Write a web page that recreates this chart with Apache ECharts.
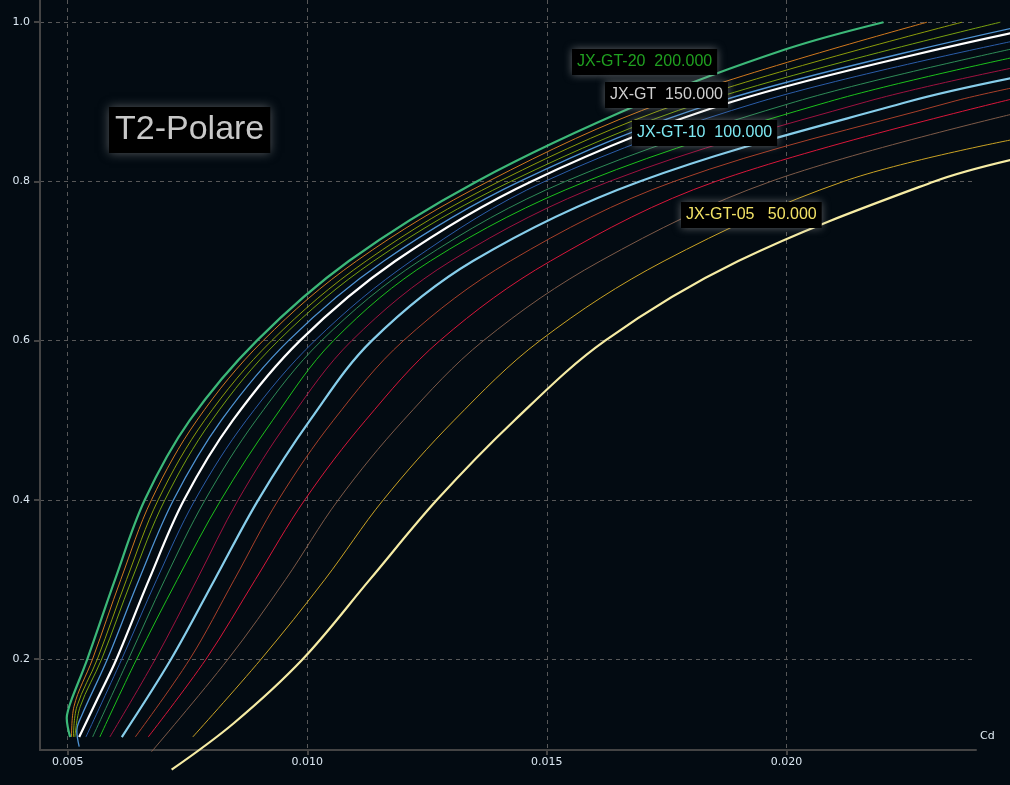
<!DOCTYPE html>
<html>
<head>
<meta charset="utf-8">
<title>T2-Polare</title>
<script src="https://cdn.jsdelivr.net/npm/echarts@6/dist/echarts.min.js"></script>
<style>
  html, body { margin: 0; padding: 0; background: #030b12; }
  #main { width: 1010px; height: 785px; }
</style>
</head>
<body>
<div id="main"></div>
<script>
// polar curves as [Cd, Cl] pairs
var gt20 = [[0.00505,0.102],[0.00500,0.115],[0.00498,0.126],[0.00501,0.136],[0.00508,0.149],[0.00541,0.2],[0.00599,0.3],[0.00661,0.4],[0.00755,0.5],[0.00895,0.6],[0.01087,0.7],[0.01354,0.8],[0.01705,0.9],[0.01999,0.966],[0.02203,1.0]];
var c190 = [[0.00508,0.102],[0.00513,0.14],[0.00552,0.2],[0.00611,0.3],[0.00675,0.4],[0.00770,0.5],[0.00908,0.6],[0.01103,0.7],[0.01378,0.8],[0.01747,0.9],[0.02294,1.0]];
var c180 = [[0.00512,0.102],[0.00519,0.14],[0.00562,0.2],[0.00623,0.3],[0.00689,0.4],[0.00786,0.5],[0.00926,0.6],[0.01123,0.7],[0.01401,0.8],[0.01787,0.9],[0.02367,1.0]];
var c170 = [[0.00515,0.102],[0.00526,0.14],[0.00571,0.2],[0.00634,0.3],[0.00703,0.4],[0.00801,0.5],[0.00940,0.6],[0.01139,0.7],[0.01425,0.8],[0.01828,0.9],[0.02447,1.0]];
var c160 = [[0.00524,0.09],[0.00519,0.11],[0.00530,0.13],[0.00583,0.2],[0.00649,0.3],[0.00721,0.4],[0.00821,0.5],[0.00961,0.6],[0.01160,0.7],[0.01444,0.8],[0.01858,0.9],[0.02468,0.992]];
var gt = [[0.00524,0.102],[0.00563,0.151],[0.00602,0.2],[0.00670,0.3],[0.00743,0.4],[0.00845,0.5],[0.00985,0.6],[0.01184,0.7],[0.01468,0.8],[0.01887,0.9],[0.02468,0.986]];
var c140 = [[0.00538,0.102],[0.00613,0.2],[0.00686,0.3],[0.00766,0.4],[0.00873,0.5],[0.01016,0.6],[0.01217,0.7],[0.01496,0.8],[0.01945,0.9],[0.02468,0.9755]];
var c130 = [[0.00552,0.102],[0.00627,0.2],[0.00703,0.3],[0.00787,0.4],[0.00893,0.5],[0.01030,0.6],[0.01234,0.7],[0.01539,0.8],[0.02019,0.9],[0.02468,0.966]];
var c120 = [[0.00567,0.102],[0.00644,0.2],[0.00729,0.3],[0.00820,0.4],[0.00928,0.5],[0.01055,0.6],[0.01257,0.7],[0.01582,0.8],[0.02088,0.9],[0.02468,0.955]];
var c110 = [[0.00588,0.102],[0.00683,0.2],[0.00770,0.3],[0.00856,0.4],[0.00962,0.5],[0.01093,0.6],[0.01300,0.7],[0.01631,0.8],[0.02167,0.9],[0.02468,0.942]];
var gt10 = [[0.00613,0.102],[0.00716,0.2],[0.00807,0.3],[0.00898,0.4],[0.01006,0.5],[0.01135,0.6],[0.01346,0.7],[0.01694,0.8],[0.02254,0.9],[0.02468,0.9295]];
var c90 = [[0.00641,0.102],[0.00755,0.2],[0.00848,0.3],[0.00940,0.4],[0.01055,0.5],[0.01201,0.6],[0.01424,0.7],[0.01766,0.8],[0.02346,0.9],[0.02468,0.917]];
var c80 = [[0.00668,0.102],[0.00789,0.2],[0.00892,0.3],[0.00995,0.4],[0.01122,0.5],[0.01277,0.6],[0.01508,0.7],[0.01853,0.8],[0.02468,0.903]];
var c70 = [[0.00675,0.0835],[0.00835,0.2],[0.00955,0.3],[0.01065,0.4],[0.01201,0.5],[0.01368,0.6],[0.01612,0.7],[0.01968,0.8],[0.02468,0.884]];
var c60 = [[0.00761,0.102],[0.00904,0.2],[0.01037,0.3],[0.01159,0.4],[0.01307,0.5],[0.01486,0.6],[0.01745,0.7],[0.02120,0.8],[0.02468,0.852]];
var gt05 = [[0.00717,0.061],[0.00846,0.119],[0.00991,0.2],[0.01131,0.3],[0.01271,0.4],[0.01433,0.5],[0.01622,0.6],[0.01900,0.7],[0.02309,0.8],[0.02468,0.827]];

var xTicks = [0.005, 0.010, 0.015, 0.020];
var yTicks = [0.2, 0.4, 0.6, 0.8, 1.0];

var labelTexts = ['JX-GT-20  200.000', 'JX-GT  150.000', 'JX-GT-10  100.000', 'JX-GT-05   50.000'];
var titleText = 'T2-Polare';

// curve -> colour, width (thick ones are the named profiles)
var curves = [
  { data: c60,  color: '#c9a224', width: 1 },
  { data: c70,  color: '#7e5a48', width: 1 },
  { data: c80,  color: '#d8163a', width: 1 },
  { data: c90,  color: '#a8402a', width: 1 },
  { data: c110, color: '#9e1240', width: 1 },
  { data: c120, color: '#1cc01c', width: 1 },
  { data: c130, color: '#2e8b57', width: 1 },
  { data: c140, color: '#2a5ca8', width: 1 },
  { data: c160, color: '#4f94d4', width: 1.3 },
  { data: c170, color: '#78a010', width: 1 },
  { data: c180, color: '#8c9c0a', width: 1 },
  { data: c190, color: '#d0781e', width: 1 },
  { data: gt05, color: '#f6eca4', width: 2.2 },
  { data: gt10, color: '#87ceeb', width: 2.2 },
  { data: gt,   color: '#ffffff', width: 2.2 },
  { data: gt20, color: '#3cb878', width: 2.2 }
];

var xMin = 0.004422, xMax = 0.023956;   // visible axis
var xEdge = 0.024672;                   // value at the right edge of the canvas
var yMin = 0.0857, yMax = 1.0279;

var chart = echarts.init(document.getElementById('main'));

// curves live on a hidden grid that reaches the canvas edge, so they run past the axis end
var series = curves.map(function (c) {
  return {
    type: 'line',
    xAxisIndex: 1,
    yAxisIndex: 1,
    data: c.data,
    smooth: 0.35,
    showSymbol: false,
    clip: false,
    silent: true,
    z: c.width > 2 ? 4 : 3,
    lineStyle: { color: c.color, width: c.width }
  };
});

var boxFont = '16px "Liberation Sans", Arial, sans-serif';
function tag(text, left, top, color) {
  return {
    type: 'text', left: left, top: top, z: 20,
    style: {
      text: text, fill: color, font: boxFont,
      backgroundColor: '#000000', padding: [5, 5, 5, 5],
      shadowBlur: 9, shadowColor: 'rgba(170,170,170,0.55)'
    }
  };
}

var gridLine = { show: true, lineStyle: { color: '#585858', type: [4, 4], width: 1 } };

var option = {
  backgroundColor: '#030b12',
  animation: false,
  grid: [
    { left: 40, right: 34, top: 0, bottom: 35 },
    { left: 40, right: 0, top: 0, bottom: 35 }
  ],
  xAxis: [{
    type: 'value',
    gridIndex: 0,
    min: xMin, max: xMax,
    name: 'Cd',
    nameLocation: 'end',
    nameGap: 4,
    nameTextStyle: { color: '#e0ecf4', fontSize: 11, fontFamily: 'DejaVu Sans', verticalAlign: 'bottom', padding: [0, 0, 8, 0] },
    axisLine: { lineStyle: { color: '#444444', width: 2 } },
    axisTick: { show: true, length: 5, lineStyle: { color: '#444444', width: 2 }, customValues: xTicks },
    axisLabel: { color: '#dce8f2', fontSize: 11, fontFamily: 'DejaVu Sans', margin: 7, customValues: xTicks,
      formatter: function (v) { return v.toFixed(3); } },
    splitLine: gridLine
  }, {
    type: 'value', gridIndex: 1, min: xMin, max: xEdge, show: false
  }],
  yAxis: [{
    type: 'value',
    gridIndex: 0,
    min: yMin, max: yMax,
    axisLine: { show: true, lineStyle: { color: '#444444', width: 2 } },
    axisTick: { show: true, length: 6, lineStyle: { color: '#444444', width: 2 }, customValues: yTicks },
    axisLabel: { color: '#dce8f2', fontSize: 11, fontFamily: 'DejaVu Sans', margin: 10, customValues: yTicks,
      formatter: function (v) { return v.toFixed(1); } },
    splitLine: gridLine
  }, {
    type: 'value', gridIndex: 1, min: yMin, max: yMax, show: false
  }],
  graphic: [
    {
      type: 'text', left: 109, top: 107, z: 20,
      style: {
        text: titleText, fill: '#c8c8c8', font: '34px "Liberation Sans", Arial, sans-serif',
        backgroundColor: '#000000', padding: [6, 6, 6, 6],
        shadowBlur: 10, shadowColor: 'rgba(170,170,170,0.5)'
      }
    },
    tag(labelTexts[0], 572, 49, '#20a020'),
    tag(labelTexts[1], 605, 82, '#cfcfcf'),
    tag(labelTexts[2], 632, 120, '#7ee8f2'),
    tag(labelTexts[3], 681, 202, '#f2e266')
  ],
  series: series
};

chart.setOption(option);
</script>
</body>
</html>
